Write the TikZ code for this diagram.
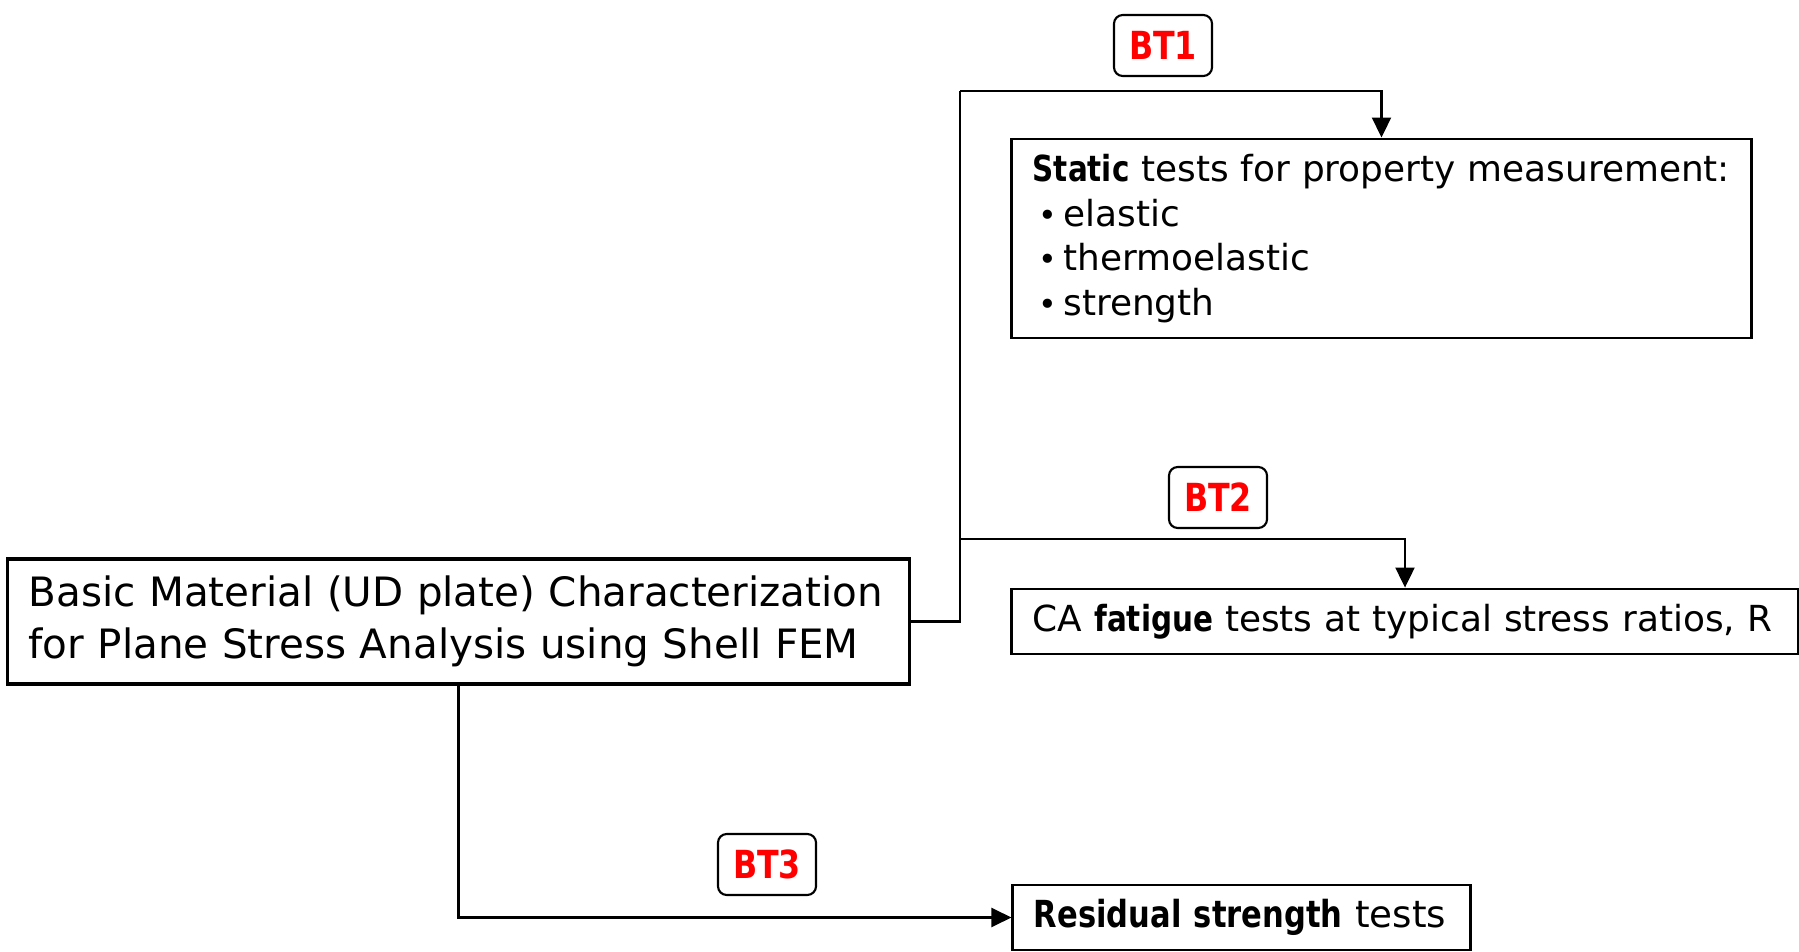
\documentclass[tikz,border=0pt]{standalone}
\usepackage{fontspec}
\setmainfont{DejaVu Sans}[BoldFeatures={FakeStretch=0.82}]
\usetikzlibrary{arrows.meta}

\tikzset{
    testbox/.style={draw, line width=0.8pt, inner xsep=0.21cm, inner ysep=0pt, align=left},
    tag/.style={draw, rounded corners=2.5pt, line width=0.6pt, text=red,
        font=\bfseries\fontsize{11}{13}\selectfont,
        minimum width=0.98cm, minimum height=0.61cm, inner sep=0pt},
    link/.style={line width=0.6pt, -{Triangle[length=2mm,width=1.9mm]}}
}

\begin{document}
\begin{tikzpicture}[x=0.01cm, y=-0.01cm]
            \useasboundingbox (0,0) rectangle (1799,952);

            \node[testbox, line width=1pt, text width=8.59cm, minimum height=1.25cm,
                font=\fontsize{11.5}{14.8}\selectfont] (material) at (458.5,621.5)
                {Basic Material (UD plate) Characterization\\for Plane Stress Analysis using Shell FEM};

            \node[testbox, text width=6.97cm, minimum height=1.99cm,
                font=\fontsize{10.2}{12.7}\selectfont] (static) at (1381.5,238.5)
                {\textbf{Static} tests for property measurement:\\
                 \,{\small•}\,elastic\\
                 \,{\small•}\,thermoelastic\\
                 \,{\small•}\,strength};

            \node[testbox, text width=7.44cm, minimum height=0.65cm,
                font=\fontsize{10.2}{12.7}\selectfont] (fatigue) at (1405,621.5)
                {CA \textbf{fatigue} tests at typical stress ratios, R};

            \node[testbox, text width=4.15cm, minimum height=0.65cm,
                font=\fontsize{10.6}{12.7}\selectfont] (residual) at (1241.5,917.5)
                {\textbf{Residual strength} tests};

            \node[tag] (bt1) at (1163,45.5) {BT1};
            \node[tag] (bt2) at (1218,497.5) {BT2};
            \node[tag] (bt3) at (767,864.5) {BT3};

            \coordinate (split) at (960,621.5);
            \coordinate (knee1) at (960,91);
            \coordinate (knee2) at (960,539);

            \draw [line width=0.6pt]
                (material.east) -- (split) -- (knee1);
            \draw [link] (knee1) -| (static.north);
            \draw [link] (knee2) -| (fatigue.north);
            \draw [link] (material.south) |- (residual.west);

        \end{tikzpicture}
\end{document}
